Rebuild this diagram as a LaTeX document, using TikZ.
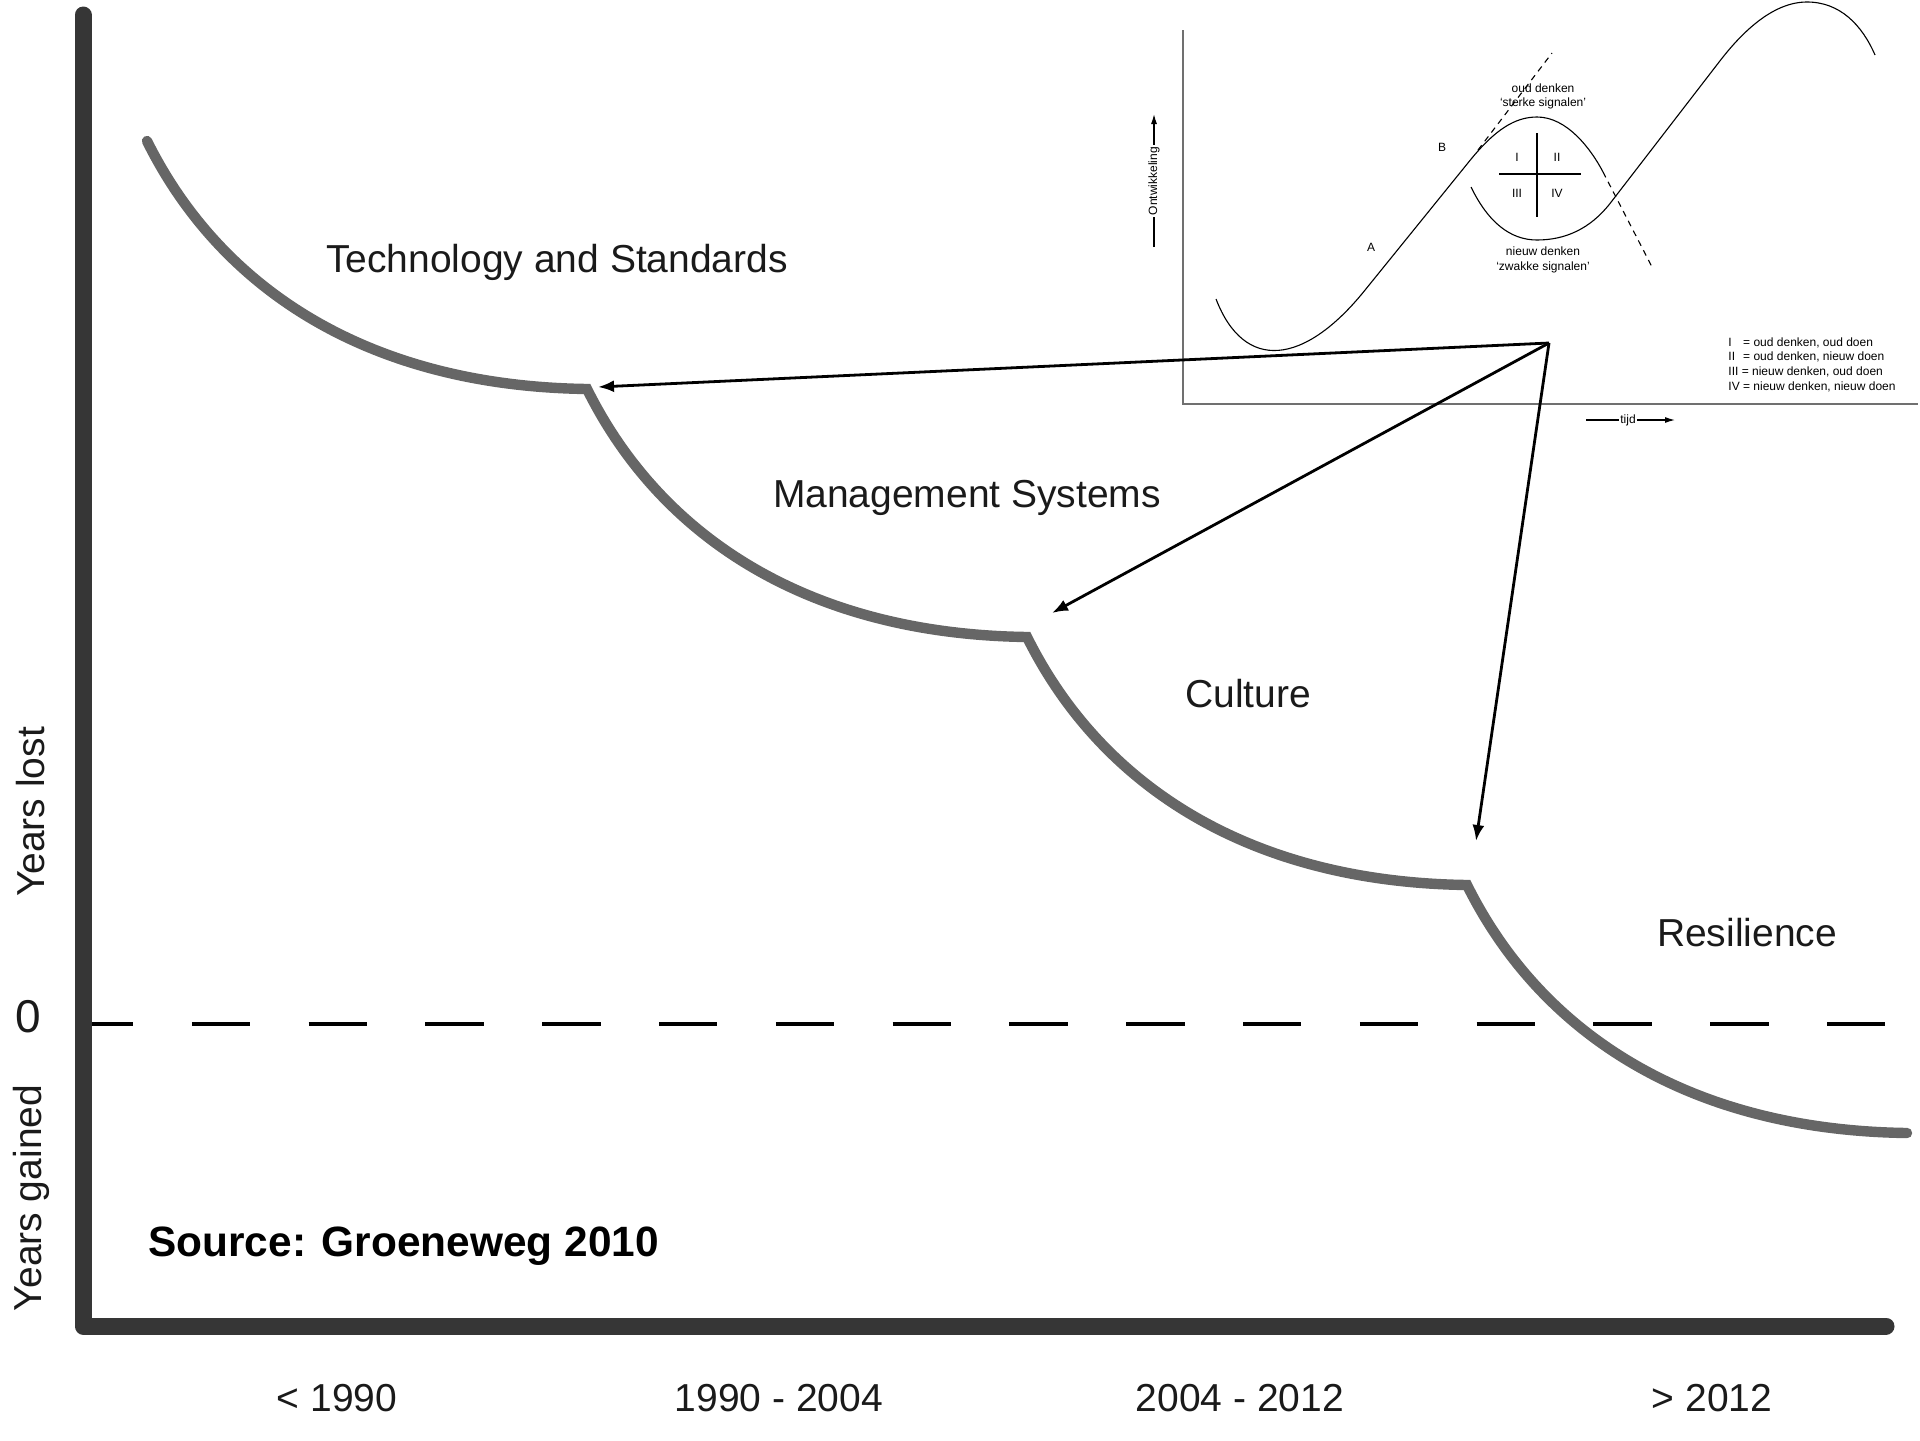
\documentclass[tikz,border=0pt]{standalone}
\usepackage{fontspec}
\setmainfont{Liberation Sans}
\usetikzlibrary{arrows.meta}
\definecolor{axisgray}{HTML}{363636}
\definecolor{curvegray}{HTML}{666666}
\definecolor{insetgray}{HTML}{707070}
\definecolor{labelcol}{HTML}{1A1A1A}
\begin{document}
\begin{tikzpicture}[x=0.5pt,y=-0.5pt,
  axis/.style={line width=8.5pt, color=axisgray, line cap=round, line join=round},
  stage/.style={line width=5.2pt, color=curvegray, line cap=round, line join=miter},
  zero/.style={line width=2pt, black, dash pattern=on 29.2pt off 29.2pt},
  lbl/.style={font=\fontsize{19.5}{23}\selectfont, text=labelcol, inner sep=0pt},
  pointer/.style={line width=1.4pt, -{Latex[length=8pt,width=6pt]}},
  inaxis/.style={line width=0.7pt, insetgray},
  incurve/.style={line width=0.55pt, black},
  indash/.style={line width=0.55pt, black, dash pattern=on 3pt off 2.5pt},
  small/.style={font=\fontsize{6}{7.35}\selectfont, inner sep=0pt}
]
\useasboundingbox (0,0) rectangle (1920,1440);

% ---------- inset ----------
\coordinate (iorig) at (1183,404);
\coordinate (itop) at (1183,30);
\coordinate (iright) at (1918,404);
\draw[inaxis] (itop) -- (iorig) -- (iright);

% curve alpha (old)
\draw[incurve] (1216,299) .. controls (1244,372) and (1304,366) .. (1365,290.1)
  -- (1470,160.4) .. controls (1495,129.6) and (1515,117) .. (1537,117)
  .. controls (1567,117) and (1591,149) .. (1603,172);
% curve beta (new)
\draw[incurve] (1471,187) .. controls (1488,222) and (1510,240) .. (1537,240)
  .. controls (1565,240) and (1590,229) .. (1610,203.5)
  -- (1720,60.8) .. controls (1745,28.4) and (1775,2) .. (1807,2)
  .. controls (1840,2) and (1862,25) .. (1875,55);
% tangents
\draw[indash] (1478,150) -- (1552,53);
\draw[indash] (1603,172) -- (1652,267);
% quadrants
\coordinate (qt) at (1537,133);
\coordinate (qb) at (1537,217);
\coordinate (ql) at (1499,174);
\coordinate (qr) at (1581,174);
\draw[incurve, line width=0.65pt] (qt) -- (qb);
\draw[incurve, line width=0.65pt] (ql) -- (qr);
\node[small] (q1) at (1517,157) {I};
\node[small] (q2) at (1557,157) {II};
\node[small] (q3) at (1517,193) {III};
\node[small] (q4) at (1557,193) {IV};
\node[small, align=center] (old) at (1543,96.5) {oud denken\\‘sterke signalen’};
\node[small, align=center] (new) at (1543,260) {nieuw denken\\‘zwakke signalen’};
\node[small] (lA) at (1371,247) {A};
\node[small] (lB) at (1442,147) {B};
% axis captions
\coordinate (onS) at (1154,247);
\coordinate (onE) at (1154,114);
\draw[line width=0.6pt, -{Latex[length=5pt,width=3pt]}] (onS) -- (onE);
\node[small, fill=white, inner sep=0.8pt, rotate=90] (ont) at (1154,181) {Ontwikkeling};
\coordinate (tiS) at (1586,420);
\coordinate (tiE) at (1675,420);
\draw[line width=0.6pt, -{Latex[length=5pt,width=3pt]}] (tiS) -- (tiE);
\node[small, fill=white, inner sep=0.8pt] (tijd) at (1628,420) {tijd};
% legend
\node[small, anchor=north west, align=left] (legend) at (1728,337)
 {\makebox[7.4pt][l]{I}= oud denken, oud doen\\
  \makebox[7.4pt][l]{II}= oud denken, nieuw doen\\
  III = nieuw denken, oud doen\\
  IV = nieuw denken, nieuw doen};

% ---------- main chart ----------
\coordinate (zs) at (75,1024);
\coordinate (ze) at (1886,1024);
\draw[zero] (zs) -- (ze);

\coordinate (atop) at (83,15);
\coordinate (aorig) at (83,1326);
\coordinate (aright) at (1886,1326);
\draw[axis] (atop) -- (aorig) -- (aright);

\coordinate (s0) at (147,141);
\coordinate (s1) at (587,389);
\coordinate (s2) at (1027,637);
\coordinate (s3) at (1467,885);
\coordinate (s4) at (1907,1133);
\draw[stage] (s0) .. controls +(73,147) and +(-220,-3) .. (s1)
  .. controls +(73,147) and +(-220,-3) .. (s2)
  .. controls +(73,147) and +(-220,-3) .. (s3)
  .. controls +(73,147) and +(-220,-3) .. (s4);

% labels
\node[lbl] (tech) at (557,262) {Technology and Standards};
\node[lbl] (mgmt) at (967,498) {Management Systems};
\node[lbl] (cult) at (1248,694) {Culture};
\node[lbl] (resi) at (1747,933) {Resilience};

\node[lbl, font=\fontsize{23}{27}\selectfont] (zerol) at (28,1017) {0};
\node[lbl, rotate=90] (ylost) at (31,812) {Years lost};
\node[lbl, rotate=90] (ygain) at (31,1198) {Years gained};
\node[font=\bfseries\fontsize{21.2}{25}\selectfont, anchor=west, inner sep=0pt] (src) at (148,1246) {Source: Groeneweg 2010};

\node[lbl] (p1) at (337,1398) {< 1990};
\node[lbl] (p2) at (779,1398) {1990 - 2004};
\node[lbl] (p3) at (1240,1398) {2004 - 2012};
\node[lbl] (p4) at (1712,1398) {> 2012};

% pointers
\coordinate (src0) at (1549,343);
\coordinate (t1) at (598,387);
\coordinate (t2) at (1052,613);
\coordinate (t3) at (1476,841);
\draw[pointer] (src0) -- (t1);
\draw[pointer] (src0) -- (t2);
\draw[pointer] (src0) -- (t3);
\end{tikzpicture}
\end{document}
